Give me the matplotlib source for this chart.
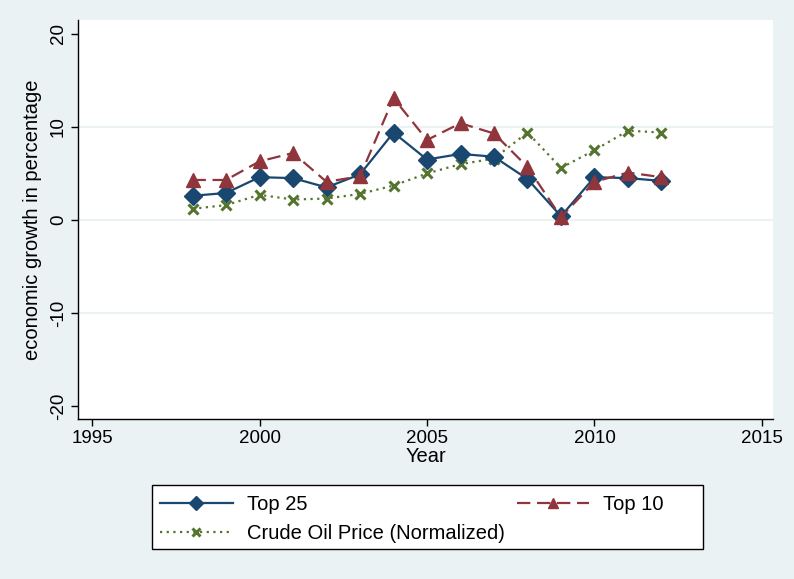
import matplotlib
matplotlib.use("Agg")
import matplotlib.pyplot as plt
from matplotlib.patches import Rectangle

plt.rcParams["font.family"] = ["Liberation Sans", "DejaVu Sans"]
plt.rcParams["axes.unicode_minus"] = False

# Data
years = [1998, 1999, 2000, 2001, 2002, 2003, 2004, 2005, 2006, 2007, 2008, 2009, 2010, 2011, 2012]
top25 = [2.6, 2.9, 4.6, 4.5, 3.5, 4.9, 9.4, 6.5, 7.1, 6.8, 4.4, 0.4, 4.6, 4.5, 4.2]
top10 = [4.3, 4.3, 6.3, 7.2, 4.1, 4.7, 13.1, 8.6, 10.4, 9.3, 5.7, 0.3, 4.1, 5.1, 4.6]
crude = [1.2, 1.6, 2.7, 2.2, 2.3, 2.8, 3.7, 5.0, 6.0, 6.6, 9.4, 5.6, 7.5, 9.6, 9.4]

xticks = [1995, 2000, 2005, 2010, 2015]
yticks = [-20, -10, 0, 10, 20]

BG = "#EAF2F3"
NAVY = "#1a476f"
MAROON = "#90353b"
GREEN = "#55752f"

W, H = 794, 579
fig = plt.figure(figsize=(W / 100, H / 100), dpi=100, facecolor=BG)
ax = fig.add_axes([78 / W, 1 - 419 / H, (773 - 78) / W, (419 - 20) / H])
ax.set_facecolor("white")

for y in [-10, 0, 10]:
    ax.axhline(y, color=BG, lw=1.5, zorder=0)

ax.plot(years, top25, color=NAVY, lw=1.6, marker="D", ms=9, label="Top 25", zorder=3)
ax.plot(years, top10, color=MAROON, lw=1.6, ls=(0, (6, 3)), marker="^", ms=10, label="Top 10", zorder=4)
ax.plot(years, crude, color=GREEN, lw=1.6, ls=(0, (1, 2)), marker="x", ms=7, mew=2.2,
        label="Crude Oil Price (Normalized)", zorder=2)

ax.set_xlim(1994.58, 2015.33)
ax.set_ylim(-21.4, 21.5)
ax.set_xticks(xticks)
ax.set_yticks(yticks)
ax.set_yticklabels([str(t) for t in yticks], rotation=90, va="center")
ax.tick_params(labelsize=13.5, length=5, width=1, direction="out", pad=3)

for s in ["top", "right"]:
    ax.spines[s].set_visible(False)
for s in ["left", "bottom"]:
    ax.spines[s].set_linewidth(1)

ax.set_xlabel("Year", fontsize=14.5, labelpad=0)
ax.set_ylabel("economic growth in percentage", fontsize=14.5, labelpad=6)

# legend box (Stata style), drawn separately from the entries
fig.patches.append(Rectangle((152 / W, 1 - 549 / H), 551 / W, 64 / H, transform=fig.transFigure,
                             facecolor="white", edgecolor="black", lw=1, zorder=1))

h, l = ax.get_legend_handles_labels()
order = [0, 2, 1]
leg = fig.legend([h[i] for i in order], [l[i] for i in order], ncol=2,
                 loc="upper left", bbox_to_anchor=(160 / W, 1 - 495 / H),
                 fontsize=14.5, handlelength=3.6, handletextpad=0.7, columnspacing=0.6,
                 markerscale=0.75, frameon=False, borderaxespad=0, borderpad=0,
                 labelspacing=0.5)

fig.savefig("out.png", dpi=100, facecolor=BG)
